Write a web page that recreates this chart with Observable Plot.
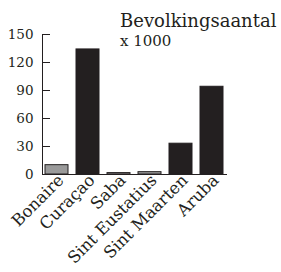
<!DOCTYPE html>
<html><head><meta charset="utf-8">
<script src="https://cdn.jsdelivr.net/npm/d3@7"></script>
<script src="https://cdn.jsdelivr.net/npm/@observablehq/plot@0.6"></script>
<style>
body{margin:0;background:#fff;}
#wrap{position:relative;width:281px;height:272px;}
#title{position:absolute;left:120px;top:10px;font-family:"DejaVu Serif",serif;color:#231f20;white-space:nowrap;}
#title .t1{font-size:18px;line-height:21px;}
#title .t2{font-size:15px;line-height:20px;}
</style></head><body>
<div id="wrap"><div id="title"><div class="t1">Bevolkingsaantal</div><div class="t2">x 1000</div></div></div>
<script>
const islands = ["Bonaire","Curaçao","Saba","Sint Eustatius","Sint Maarten","Aruba"];
const population = [10, 134, 1.5, 2.5, 33, 94];
const group = ["BES","land","BES","BES","land","land"];
const yTicks = [0,30,60,90,120,150];
const data = islands.map((d,i)=>({island:d, value:population[i], group:group[i]}));
const chart = Plot.plot({
  width:281, height:272,
  marginTop:34, marginBottom:98, marginLeft:42, marginRight:54,
  style:{fontFamily:"DejaVu Serif, serif", fontSize:"13px", color:"#231f20", background:"#fff"},
  x:{domain:islands, paddingInner:0.25, paddingOuter:0.1, label:null},
  y:{domain:[0,150], ticks:yTicks, label:null},
  color:{domain:["BES","land"], range:["#9a9a9a","#231f20"]},
  marks:[
    Plot.barY(data,{x:"island", y:"value", fill:"group", stroke:"#231f20", strokeWidth:1}),
    Plot.axisY({ticks:yTicks, tickSize:0, tickPadding:9, label:null, fontSize:13.5}),
    Plot.axisY({ticks:yTicks, tickSize:8, dx:8, text:null, label:null, stroke:"#231f20"}),
    Plot.frame({anchor:"left", stroke:"#231f20"}),
    Plot.axisX({tickSize:0, tickRotate:-45, tickPadding:3, dx:4, label:null, fontSize:16.5}),
    Plot.ruleY([0],{stroke:"#231f20"})
  ]
});
document.getElementById("wrap").prepend(chart);
chart.style.position="absolute";chart.style.left="0";chart.style.top="0";
</script>
</body></html>
